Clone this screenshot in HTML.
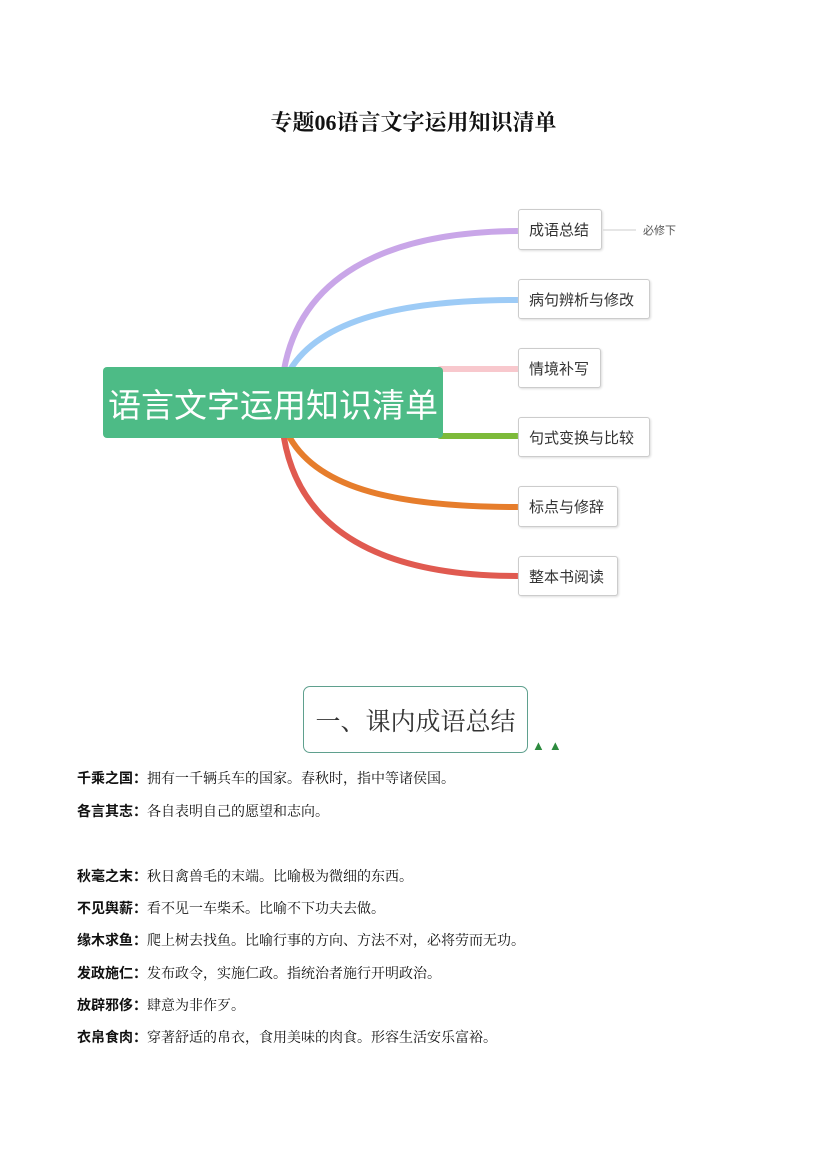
<!DOCTYPE html>
<html><head><meta charset="utf-8"><style>
body{margin:0;background:#fff;width:827px;height:1169px;position:relative;overflow:hidden;font-family:"Liberation Sans","Noto Sans CJK SC",sans-serif}
.a{position:absolute}
.b{position:absolute;border:1px solid #ccc;border-radius:3px;background:#fff;font-size:15px;color:#333;box-sizing:border-box;padding-left:10px;display:flex;align-items:center;box-shadow:1px 1px 2px #ddd}
.l{position:absolute;left:77px;font-size:14px;color:#111;white-space:nowrap;font-family:"Liberation Serif","Noto Serif CJK SC",serif}
.l b{font-family:"Liberation Sans","Noto Sans CJK SC",sans-serif}
</style></head><body>
<div class="a" style="left:0;width:827px;top:106px;text-align:center;font-size:22px;font-weight:bold;font-family:'Liberation Serif','Noto Serif CJK SC',serif;color:#111">专题06语言文字运用知识清单</div>
<svg class="a" style="left:0;top:0" width="827" height="700">
<g fill="none" stroke-width="6" stroke-linecap="round">
<path d="M284 370 C300 280 380 232 518 231" stroke="#c9a6e8"/>
<path d="M290 370 C320 320 400 300 518 300" stroke="#9dcbf6"/>
<path d="M440 369 L518 369" stroke="#f8c8cd"/>
<path d="M440 436 L518 436" stroke="#7dba3a"/>
<path d="M290 438 C320 490 400 507 518 507" stroke="#e67d2c"/>
<path d="M284 438 C300 530 380 576 518 576" stroke="#e05a50"/>
</g>
<line x1="603" y1="230" x2="636" y2="230" stroke="#ccc" stroke-width="1"/>
</svg>
<div class="a" style="left:103px;top:367px;width:340px;height:71px;background:#4dbb86;border-radius:4px;color:#fff;font-size:33px;display:flex;align-items:center;justify-content:center">语言文字运用知识清单</div>
<div class="b" style="left:518px;top:209px;width:84px;height:41px">成语总结</div>
<div class="a" style="left:643px;top:222px;font-size:11px;color:#555">必修下</div>
<div class="b" style="left:518px;top:279px;width:132px;height:40px">病句辨析与修改</div>
<div class="b" style="left:518px;top:348px;width:83px;height:40px">情境补写</div>
<div class="b" style="left:518px;top:417px;width:132px;height:40px">句式变换与比较</div>
<div class="b" style="left:518px;top:486px;width:100px;height:41px">标点与修辞</div>
<div class="b" style="left:518px;top:556px;width:100px;height:40px">整本书阅读</div>
<div class="a" style="left:303px;top:686px;width:225px;height:67px;border:1.5px solid #5fa08e;border-radius:7px;box-sizing:border-box;font-size:25px;font-family:'Liberation Serif','Noto Serif CJK SC',serif;color:#333;display:flex;align-items:center;justify-content:center">一、课内成语总结</div>
<div class="a" style="left:532px;top:738px;color:#2d8a3e;font-size:13px;letter-spacing:4px">▲▲</div>
<div class="l" style="top:768px"><b>千乘之国：</b>拥有一千辆兵车的国家。春秋时，指中等诸侯国。</div>
<div class="l" style="top:801px"><b>各言其志：</b>各自表明自己的愿望和志向。</div>
<div class="l" style="top:866px"><b>秋毫之末：</b>秋日禽兽毛的末端。比喻极为微细的东西。</div>
<div class="l" style="top:898px"><b>不见舆薪：</b>看不见一车柴禾。比喻不下功夫去做。</div>
<div class="l" style="top:930px"><b>缘木求鱼：</b>爬上树去找鱼。比喻行事的方向、方法不对，必将劳而无功。</div>
<div class="l" style="top:963px"><b>发政施仁：</b>发布政令，实施仁政。指统治者施行开明政治。</div>
<div class="l" style="top:995px"><b>放辟邪侈：</b>肆意为非作歹。</div>
<div class="l" style="top:1027px"><b>衣帛食肉：</b>穿著舒适的帛衣，食用美味的肉食。形容生活安乐富裕。</div>
</body></html>
